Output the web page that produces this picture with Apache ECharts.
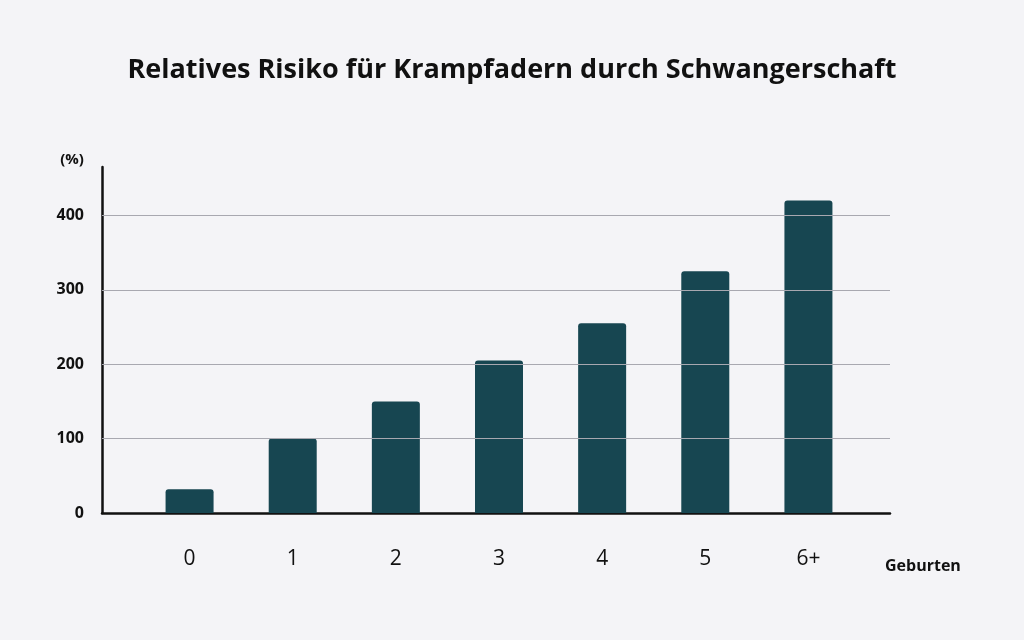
<!DOCTYPE html>
<html><head><meta charset="utf-8">
<script src="https://cdn.jsdelivr.net/npm/echarts@6/dist/echarts.min.js"></script>
<style>html,body{margin:0;background:#f4f4f7}#c{width:1024px;height:640px}</style>
</head><body><div id="c"></div>
<script>
var categories = ['0', '1', '2', '3', '4', '5', '6+'];
var values = [32, 100, 150, 205, 255, 325, 420];
var gridTicks = [100, 200, 300, 400];

var chart = echarts.init(document.getElementById('c'));
chart.setOption({
    backgroundColor: '#f4f4f7',
    textStyle: { fontFamily: 'Open Sans' },
    title: [{
        text: 'Relatives Risiko für Krampfadern durch Schwangerschaft',
        left: 'center', top: 52,
        textStyle: { fontSize: 27, fontWeight: 'bold', color: '#111', fontFamily: 'Open Sans' }
    }, {
        text: 'Geburten', left: 880, top: 553,
        textStyle: { fontSize: 16, fontWeight: 'bold', color: '#111', fontFamily: 'Open Sans' }
    }],
    grid: [
        { left: 102, right: 134, top: 167, bottom: 127 },
        { left: 138, right: 164, top: 167, bottom: 127 }
    ],
    xAxis: [{
        gridIndex: 0, type: 'value', min: 0, max: 1,
        axisLine: { show: true, lineStyle: { color: '#111', width: 2.5 } },
        axisTick: { show: false }, axisLabel: { show: false }, splitLine: { show: false }
    }, {
        gridIndex: 1, type: 'category', data: categories,
        axisLine: { show: false }, axisTick: { show: false },
        axisLabel: { color: '#111', fontSize: 21, margin: 36 }
    }],
    yAxis: [{
        gridIndex: 0, type: 'value', min: 0, max: 465, interval: 100,
        name: '(%)', nameLocation: 'end', nameGap: 0,
        nameTextStyle: { color: '#111', fontWeight: 'bold', fontSize: 15, padding: [0, 60, 0, 0] },
        axisLine: { show: true, lineStyle: { color: '#111', width: 2.5 } },
        axisTick: { show: false },
        splitLine: { show: false },
        axisLabel: {
            color: '#111', fontWeight: 'bold', fontSize: 16, margin: 18,
            formatter: function (v) { return v % 100 === 0 ? v : ''; }
        }
    }, {
        gridIndex: 1, type: 'value', min: 0, max: 465, show: false, splitLine: { show: false }
    }],
    series: [{
        type: 'scatter', xAxisIndex: 0, yAxisIndex: 0, symbolSize: 0, silent: true,
        data: gridTicks.map(function (t) { return [0, t]; }),
        markLine: {
            silent: true, symbol: 'none', label: { show: false },
            lineStyle: { color: '#a8a8b0', width: 1, type: 'solid' },
            data: gridTicks.map(function (t) { return { yAxis: t }; })
        }
    }, {
        type: 'bar', xAxisIndex: 1, yAxisIndex: 1, data: values, barWidth: 48,
        itemStyle: { color: '#174651', borderRadius: [3, 3, 0, 0] },
        z: 3
    }]
});
</script></body></html>
